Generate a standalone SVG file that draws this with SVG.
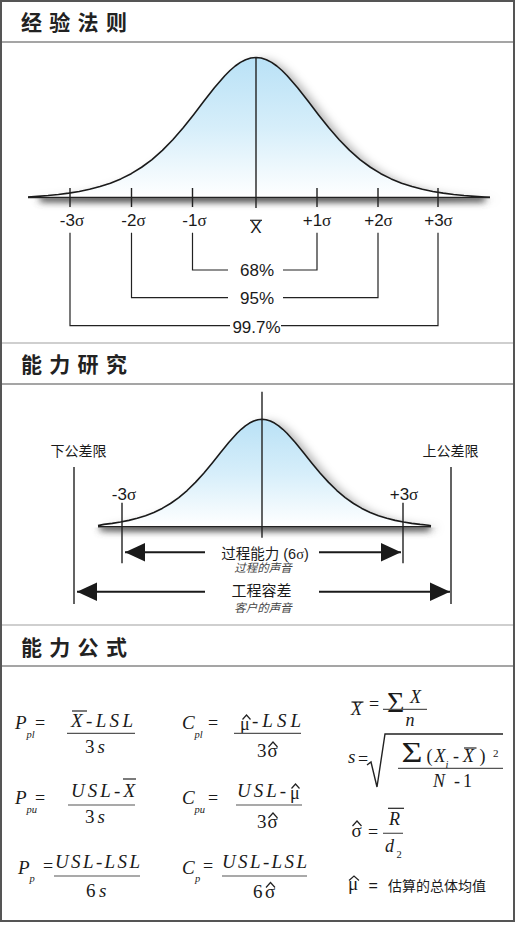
<svg xmlns="http://www.w3.org/2000/svg" width="520" height="926" viewBox="0 0 520 926">
<style>
.t{font-family:"Noto Sans CJK SC",sans-serif;font-weight:bold;font-size:21px;letter-spacing:7.3px;fill:#222}
.lb{font-family:"Liberation Sans","Noto Sans CJK SC",sans-serif;font-size:17px;fill:#1a1a1a;text-anchor:middle}
.cj{font-family:"Liberation Sans","Noto Sans CJK SC",sans-serif;font-size:14px;fill:#1a1a1a;text-anchor:middle}
.it{font-family:"Liberation Sans","Noto Sans CJK SC",sans-serif;font-size:11.5px;font-style:italic;fill:#444;text-anchor:middle}
.g{font-family:"Liberation Serif",serif}
.mi{font-family:"Liberation Serif",serif;font-style:italic;font-size:19px;fill:#1a1a1a}
.mp{font-family:"Liberation Serif",serif;font-style:italic;font-size:19px;fill:#1a1a1a}
.mu{font-family:"Liberation Serif",serif;font-style:normal;font-size:18px;fill:#1a1a1a}
.du{font-family:"Liberation Serif",serif;font-size:19px;fill:#1a1a1a}
.sb{font-family:"Liberation Serif",serif;font-style:italic;font-size:10.5px;fill:#1a1a1a}
.big{font-family:"Liberation Serif",serif;font-size:29px;fill:#1a1a1a}
.ln{stroke:#222;stroke-width:1.4;fill:none}
.thin{stroke:#222;stroke-width:1.2;fill:none}
.fr{stroke:#555;stroke-width:1.2;fill:none}
.hd{stroke:#a5a5a5;stroke-width:2}
.sp{stroke:#cfcfcf;stroke-width:2}
.crv{fill:none;stroke:#1a1a1a;stroke-width:1.6;stroke-linejoin:round}
.arr{stroke:#1a1a1a;stroke-width:2;fill:none}
</style>
<defs>
<linearGradient id="gr" x1="0" y1="0" x2="0" y2="1">
<stop offset="0" stop-color="#b9e1f6"/>
<stop offset="0.5" stop-color="#d6eefa"/>
<stop offset="1" stop-color="#ffffff"/>
</linearGradient>
<filter id="sh" x="-10%" y="-10%" width="130%" height="130%">
<feGaussianBlur in="SourceAlpha" stdDeviation="4"/>
<feOffset dx="7" dy="2" result="b"/>
<feFlood flood-color="#000" flood-opacity="0.28"/>
<feComposite in2="b" operator="in"/>
<feMerge><feMergeNode/><feMergeNode in="SourceGraphic"/></feMerge>
</filter>
<filter id="bl" x="-10%" y="-200%" width="120%" height="500%"><feGaussianBlur stdDeviation="3.5"/></filter>
<clipPath id="c1"><rect x="0" y="198.3" width="520" height="30"/></clipPath>
<clipPath id="c2"><rect x="0" y="527.5" width="520" height="30"/></clipPath>
<marker id="ah" markerUnits="userSpaceOnUse" markerWidth="21" markerHeight="19" refX="20" refY="9.25" orient="auto">
<path d="M0,0 L20,9.25 L0,18.5 Z" fill="#1a1a1a"/>
</marker>
</defs>

<rect x="1" y="1" width="513" height="920" fill="#fff" stroke="#555" stroke-width="2"/>

<g id="headers">
<text class="t" x="21" y="30">经验法则</text>
<line class="hd" x1="2" y1="42" x2="513" y2="42"/>
<line class="sp" x1="2" y1="343" x2="513" y2="343"/>
<text class="t" x="21" y="372">能力研究</text>
<line class="hd" x1="2" y1="384" x2="513" y2="384"/>
<line class="sp" x1="2" y1="625" x2="513" y2="625"/>
<text class="t" x="21" y="655">能力公式</text>
<line class="hd" x1="2" y1="666" x2="513" y2="666"/>
</g>

<g id="rule-curve">
<g clip-path="url(#c1)"><rect x="40" y="194" width="445" height="8" fill="#555" filter="url(#bl)"/></g>
<path filter="url(#sh)" fill="url(#gr)" d="M28,197.1 L37.6,196.34 L48,195.52 L58.4,194.46 L68.8,193.13 L79.2,191.44 L89.6,189.28 L100,186.55 L110.4,183.16 L120.8,178.91 L131.2,173.67 L141.6,167.26 L152,159.53 L162.4,150.37 L172.8,139.75 L183.2,127.76 L193.6,114.7 L204,101.11 L214.4,87.78 L224.8,75.71 L230,70.5 L235.2,66.01 L240.4,62.38 L245.6,59.69 L250.8,58.05 L256,57.5 L261.2,58.05 L266.4,59.69 L271.6,62.38 L276.8,66.01 L282,70.5 L287.2,75.71 L297.6,87.78 L308,101.11 L318.4,114.7 L328.8,127.76 L339.2,139.75 L349.6,150.37 L360,159.53 L370.4,167.26 L380.8,173.67 L391.2,178.91 L401.6,183.16 L412,186.55 L422.4,189.28 L432.8,191.44 L443.2,193.13 L453.6,194.46 L464,195.52 L474.4,196.34 L484.8,197.0 L490,197.25 L490,197.5 L28,197.5 Z"/>
<path class="crv" d="M28,197.1 L37.6,196.34 L48,195.52 L58.4,194.46 L68.8,193.13 L79.2,191.44 L89.6,189.28 L100,186.55 L110.4,183.16 L120.8,178.91 L131.2,173.67 L141.6,167.26 L152,159.53 L162.4,150.37 L172.8,139.75 L183.2,127.76 L193.6,114.7 L204,101.11 L214.4,87.78 L224.8,75.71 L230,70.5 L235.2,66.01 L240.4,62.38 L245.6,59.69 L250.8,58.05 L256,57.5 L261.2,58.05 L266.4,59.69 L271.6,62.38 L276.8,66.01 L282,70.5 L287.2,75.71 L297.6,87.78 L308,101.11 L318.4,114.7 L328.8,127.76 L339.2,139.75 L349.6,150.37 L360,159.53 L370.4,167.26 L380.8,173.67 L391.2,178.91 L401.6,183.16 L412,186.55 L422.4,189.28 L432.8,191.44 L443.2,193.13 L453.6,194.46 L464,195.52 L474.4,196.34 L484.8,197.0 L490,197.25"/>
<line class="ln" x1="28" y1="197.5" x2="490" y2="197.5"/>
<line class="ln" x1="256" y1="57" x2="256" y2="208"/>
<path class="ln" d="M70,188 V207 M131.5,188 V207 M192.5,188 V207 M317,188 V207 M378,188 V207 M438,188 V207"/>
</g>

<g id="rule-labels">
<text class="lb" x="72" y="226">-3<tspan class="g">σ</tspan></text>
<text class="lb" x="133.5" y="226">-2<tspan class="g">σ</tspan></text>
<text class="lb" x="194.5" y="226">-1<tspan class="g">σ</tspan></text>
<text class="lb" x="256" y="232.7">X</text>
<line class="thin" x1="250" y1="220.3" x2="262" y2="220.3"/>
<text class="lb" x="317" y="226">+1<tspan class="g">σ</tspan></text>
<text class="lb" x="378.5" y="226">+2<tspan class="g">σ</tspan></text>
<text class="lb" x="438.5" y="226">+3<tspan class="g">σ</tspan></text>
<text class="lb" x="257" y="276">68%</text>
<text class="lb" x="257" y="303.5">95%</text>
<text class="lb" x="256.5" y="333">99.7%</text>
</g>

<g id="connectors">
<path class="thin" d="M192.5,232.7 V270 H228 M283,270 H317 V232.7"/>
<path class="thin" d="M131.5,232.7 V297.7 H228 M283,297.7 H378 V232.7"/>
<path class="thin" d="M70,232.7 V325.7 H230 M281,325.7 H438 V232.7"/>
<line class="arr" x1="205" y1="552.3" x2="125" y2="552.3" marker-end="url(#ah)"/>
<line class="arr" x1="319" y1="552.3" x2="401" y2="552.3" marker-end="url(#ah)"/>
<line class="arr" x1="205" y1="591.7" x2="77" y2="591.7" marker-end="url(#ah)"/>
<line class="arr" x1="319" y1="591.7" x2="450" y2="591.7" marker-end="url(#ah)"/>
</g>

<g id="capability-curve">
<g clip-path="url(#c2)"><rect x="100" y="523" width="330" height="8" fill="#555" filter="url(#bl)"/></g>
<path filter="url(#sh)" fill="url(#gr)" d="M98,525.6 L103.92,524.37 L112.24,523.35 L120.56,522.05 L128.88,520.4 L137.2,518.3 L145.52,515.7 L153.84,512.44 L162.16,508.42 L170.48,503.51 L178.8,497.58 L187.12,490.55 L195.44,482.41 L203.76,473.21 L212.08,463.19 L220.4,452.77 L228.72,442.54 L237.04,433.29 L241.2,429.29 L245.36,425.85 L249.52,423.06 L253.68,421.0 L257.84,419.74 L262,419.32 L266.16,419.74 L270.32,421.0 L274.48,423.06 L278.64,425.85 L282.8,429.29 L286.96,433.29 L295.28,442.54 L303.6,452.77 L311.92,463.19 L320.24,473.21 L328.56,482.41 L336.88,490.55 L345.2,497.58 L353.52,503.51 L361.84,508.42 L370.16,512.44 L378.48,515.7 L386.8,518.3 L395.12,520.4 L403.44,522.05 L411.76,523.35 L420.08,524.37 L428.4,525.18 L431,525.8 L431,526.7 L98,526.7 Z"/>
<path class="crv" d="M98,525.6 L103.92,524.37 L112.24,523.35 L120.56,522.05 L128.88,520.4 L137.2,518.3 L145.52,515.7 L153.84,512.44 L162.16,508.42 L170.48,503.51 L178.8,497.58 L187.12,490.55 L195.44,482.41 L203.76,473.21 L212.08,463.19 L220.4,452.77 L228.72,442.54 L237.04,433.29 L241.2,429.29 L245.36,425.85 L249.52,423.06 L253.68,421.0 L257.84,419.74 L262,419.32 L266.16,419.74 L270.32,421.0 L274.48,423.06 L278.64,425.85 L282.8,429.29 L286.96,433.29 L295.28,442.54 L303.6,452.77 L311.92,463.19 L320.24,473.21 L328.56,482.41 L336.88,490.55 L345.2,497.58 L353.52,503.51 L361.84,508.42 L370.16,512.44 L378.48,515.7 L386.8,518.3 L395.12,520.4 L403.44,522.05 L411.76,523.35 L420.08,524.37 L428.4,525.18 L431,525.8"/>
<line class="ln" x1="98" y1="526.7" x2="431" y2="526.7"/>
<line class="ln" x1="262" y1="391.7" x2="262" y2="537.7"/>
<path class="ln" d="M122,502.7 V563.3 M403,502.7 V563.3 M74,467 V604 M451,467 V604"/>
</g>

<g id="capability-labels">
<text class="cj" x="78.5" y="456">下公差限</text>
<text class="cj" x="450.5" y="456">上公差限</text>
<text class="lb" x="124" y="500">-3<tspan class="g">σ</tspan></text>
<text class="lb" x="404" y="500">+3<tspan class="g">σ</tspan></text>
<text class="cj" x="265" y="558.5" style="font-size:14.5px">过程能力 (6<tspan class="g">σ</tspan>)</text>
<text class="it" x="263" y="572">过程的声音</text>
<text class="cj" x="261.5" y="596" style="font-size:15px">工程容差</text>
<text class="it" x="263" y="611.5">客户的声音</text>
</g>

<g id="formula-ppl">
<text class="mp" x="15" y="729">P<tspan class="sb" x="26.5" dy="8.5">pl</tspan><tspan class="mu" x="35" dy="-8.5">=</tspan></text>
<text class="mi" x="71" y="727" textLength="62" lengthAdjust="spacing">X-LSL</text>
<line class="thin" x1="72" y1="711" x2="87" y2="711"/>
<line class="fr" x1="67" y1="733.3" x2="135" y2="733.3"/>
<text class="du" x="85" y="753">3<tspan class="mp" dx="3">s</tspan></text>
</g>
<g id="formula-cpl">
<text class="mp" x="182" y="729">C<tspan class="sb" x="194.5" dy="8.5">pl</tspan><tspan class="mu" x="208" dy="-8.5">=</tspan></text>
<text class="mu" x="240" y="729.5">μ</text>
<path class="thin" d="M242.5,719.5 L246.5,715 L250.5,719.5"/>
<text class="mi" x="252" y="727" textLength="49" lengthAdjust="spacing">-LSL</text>
<line class="fr" x1="234" y1="733.3" x2="301" y2="733.3"/>
<text class="du" x="257" y="757">3<tspan x="267.5">σ</tspan></text>
<path class="thin" d="M268.5,747 L273,742 L277.5,747"/>
</g>
<g id="formula-ppu">
<text class="mp" x="15" y="804">P<tspan class="sb" x="26.5" dy="8.5">pu</tspan><tspan class="mu" x="35" dy="-8.5">=</tspan></text>
<text class="mi" x="71" y="797" textLength="64" lengthAdjust="spacing">USL-X</text>
<line class="thin" x1="123" y1="779" x2="136" y2="779"/>
<line class="fr" x1="68" y1="805" x2="135" y2="805"/>
<text class="du" x="85" y="823">3<tspan class="mp" dx="3">s</tspan></text>
</g>
<g id="formula-cpu">
<text class="mp" x="182" y="804">C<tspan class="sb" x="194.5" dy="8.5">pu</tspan><tspan class="mu" x="208" dy="-8.5">=</tspan></text>
<text class="mi" x="237" y="797" textLength="49" lengthAdjust="spacing">USL-</text>
<text class="mu" x="290" y="798.5">μ</text>
<path class="thin" d="M291.5,788.5 L295.5,784 L299.5,788.5"/>
<line class="fr" x1="236" y1="805" x2="302" y2="805"/>
<text class="du" x="257" y="828">3<tspan x="267.5">σ</tspan></text>
<path class="thin" d="M268.5,818 L273,813 L277.5,818"/>
</g>
<g id="formula-pp">
<text class="mp" x="18" y="874">P<tspan class="sb" x="29.5" dy="8">p</tspan><tspan class="mu" x="43" dy="-10.5">=</tspan></text>
<text class="mi" x="55" y="868" textLength="85" lengthAdjust="spacing">USL-LSL</text>
<line class="fr" x1="54" y1="876" x2="140" y2="876"/>
<text class="du" x="86" y="897">6<tspan class="mp" dx="3.5">s</tspan></text>
</g>
<g id="formula-cp">
<text class="mp" x="182" y="874">C<tspan class="sb" x="195" dy="8">p</tspan><tspan class="mu" x="203" dy="-10.5">=</tspan></text>
<text class="mi" x="222" y="868" textLength="85" lengthAdjust="spacing">USL-LSL</text>
<line class="fr" x1="222" y1="876" x2="307" y2="876"/>
<text class="du" x="253" y="897.5">6<tspan x="265">σ</tspan></text>
<path class="thin" d="M266,887.5 L270.5,882.5 L275,887.5"/>
</g>

<g id="formula-xbar">
<text class="mi" x="351" y="715" style="font-size:18px">X</text>
<line class="thin" x1="351.5" y1="702" x2="363.5" y2="702"/>
<text class="mu" x="369" y="710">=</text>
<text class="big" x="387" y="711.5" style="font-size:30px">Σ</text>
<text class="mi" x="410" y="703" style="font-size:18px">X</text>
<text class="mi" x="405.5" y="726" style="font-size:18px">n</text>
<line class="fr" x1="383" y1="709.3" x2="427" y2="709.3"/>
</g>
<g id="formula-s">
<text class="mp" x="348" y="763">s</text>
<text class="mu" x="358" y="765">=</text>
<path d="M367,765 L371,762 L377,787 L385,734 L503,734" stroke="#222" stroke-width="1.4" fill="none" stroke-linejoin="miter"/>
<text class="big" x="401.5" y="761.7" textLength="21" lengthAdjust="spacingAndGlyphs">Σ</text>
<text class="mu" y="761.7"><tspan x="426.5">(</tspan><tspan class="mi" x="434.5" style="font-size:18px">X</tspan><tspan class="sb" x="445.5" dy="6">i</tspan><tspan x="453" dy="-6">-</tspan><tspan class="mi" x="463" style="font-size:18px">X</tspan><tspan x="479.5">)</tspan><tspan x="493" dy="-4.7" style="font-size:11px">2</tspan></text>
<line class="thin" x1="464" y1="748" x2="476.5" y2="748"/>
<line class="fr" x1="398" y1="768.3" x2="503" y2="768.3"/>
<text class="mu" y="786.7"><tspan class="mi" x="433" style="font-size:18px">N</tspan><tspan x="454">-</tspan><tspan x="463">1</tspan></text>
</g>
<g id="formula-sigma">
<text class="du" x="351.5" y="836.7">σ</text>
<path class="thin" d="M352.5,826 L357,821 L361.5,826"/>
<text class="mu" x="368" y="837.5">=</text>
<text class="mi" x="389" y="825" style="font-size:18px">R</text>
<line class="thin" x1="388" y1="808.3" x2="404" y2="808.3"/>
<line class="fr" x1="383" y1="833.3" x2="403" y2="833.3"/>
<text class="mi" x="385" y="851.7" style="font-size:18px">d<tspan class="sb" x="396.5" dy="6.3" style="font-style:normal">2</tspan></text>
</g>
<g id="formula-mu">
<text class="du" x="348" y="890">μ</text>
<path class="thin" d="M349,880.5 L354,876 L359,880.5"/>
<text class="cj" x="388" y="890.5" style="text-anchor:start"><tspan x="368.5" style="font-size:16px">=</tspan><tspan x="388">估算的总体均值</tspan></text>
</g>
</svg>
